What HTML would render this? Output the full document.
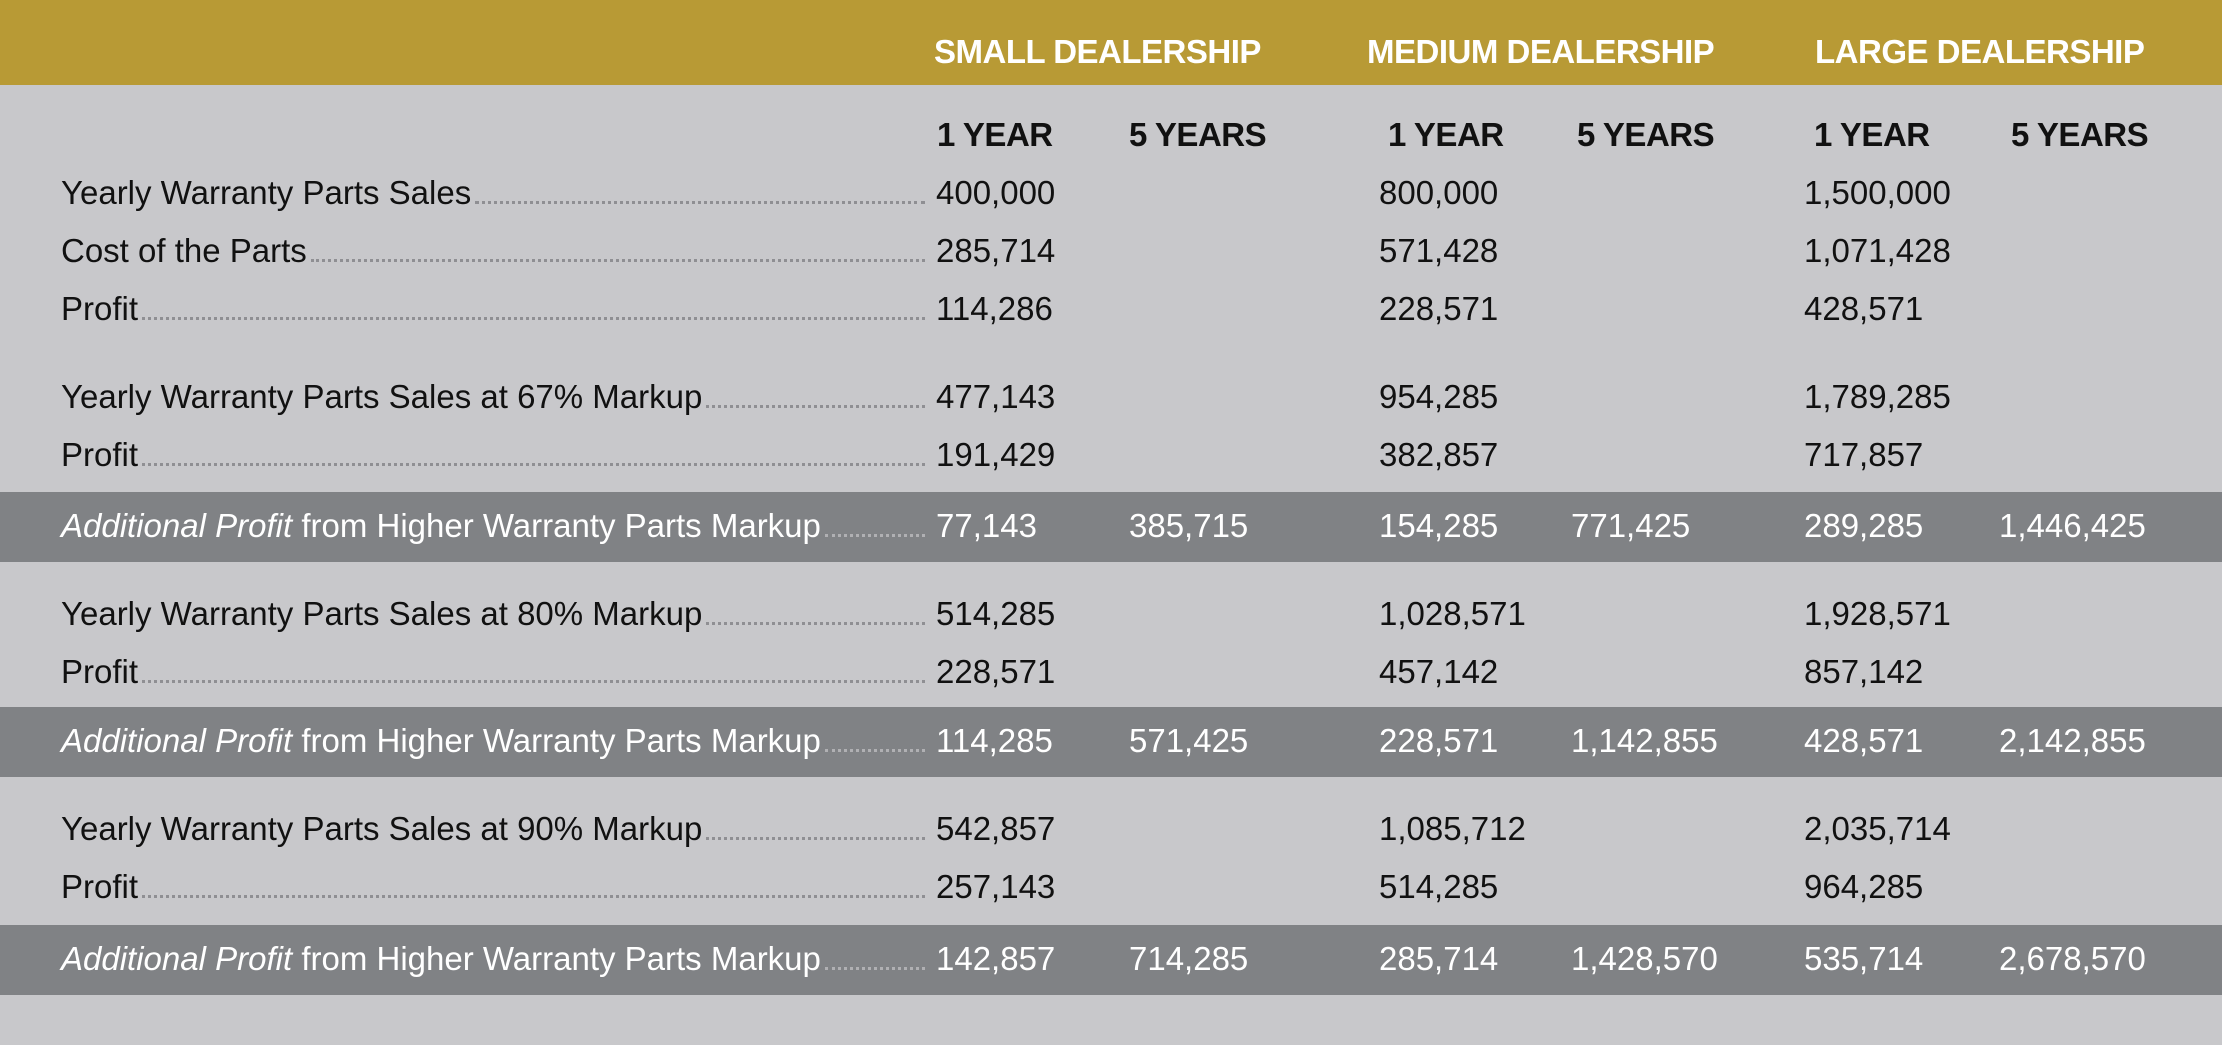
<!DOCTYPE html>
<html><head><meta charset="utf-8"><style>
html,body{margin:0;padding:0}
body{width:2222px;height:1045px;position:relative;background:#c8c8cb;overflow:hidden;font-family:"Liberation Sans",sans-serif}
.band{position:absolute;left:0;width:2222px}
.t{position:absolute;font-size:33px;line-height:40px;height:40px;white-space:nowrap;color:#111}
.h{font-weight:bold;color:#fff;font-size:33px;letter-spacing:-0.5px}
.y{font-weight:bold;color:#111;letter-spacing:-0.5px}
.lab{display:flex;align-items:flex-end;left:61px;width:866px}
.lab .d{flex:1;border-bottom:3px dotted #8f8f93;margin:0 2px 9px 4px}
.dark .t{color:#fff}
.dark .lab .d{border-bottom-color:#b0b0b3}
</style></head><body>
<div class="band" style="top:0;height:85px;background:#b89a35"></div>
<div class="t h" style="left:934px;top:32px">SMALL DEALERSHIP</div>
<div class="t h" style="left:1367px;top:32px">MEDIUM DEALERSHIP</div>
<div class="t h" style="left:1815px;top:32px">LARGE DEALERSHIP</div>
<div class="t y" style="left:937px;top:115px">1 YEAR</div>
<div class="t y" style="left:1129px;top:115px">5 YEARS</div>
<div class="t y" style="left:1388px;top:115px">1 YEAR</div>
<div class="t y" style="left:1577px;top:115px">5 YEARS</div>
<div class="t y" style="left:1814px;top:115px">1 YEAR</div>
<div class="t y" style="left:2011px;top:115px">5 YEARS</div>
<div id="rows"></div>
<script>
const labels=["Yearly Warranty Parts Sales","Cost of the Parts","Profit","Yearly Warranty Parts Sales at 67% Markup","Profit","from Higher Warranty Parts Markup","Yearly Warranty Parts Sales at 80% Markup","Profit","from Higher Warranty Parts Markup","Yearly Warranty Parts Sales at 90% Markup","Profit","from Higher Warranty Parts Markup"];
const rowY=[193,251,309,397,455,526,614,672,741,829,887,959];
const darkRows=[5,8,11];
const values=[
["400,000","","800,000","","1,500,000",""],
["285,714","","571,428","","1,071,428",""],
["114,286","","228,571","","428,571",""],
["477,143","","954,285","","1,789,285",""],
["191,429","","382,857","","717,857",""],
["77,143","385,715","154,285","771,425","289,285","1,446,425"],
["514,285","","1,028,571","","1,928,571",""],
["228,571","","457,142","","857,142",""],
["114,285","571,425","228,571","1,142,855","428,571","2,142,855"],
["542,857","","1,085,712","","2,035,714",""],
["257,143","","514,285","","964,285",""],
["142,857","714,285","285,714","1,428,570","535,714","2,678,570"]];
const colX=[936,1129,1379,1571,1804,1999];
const root=document.getElementById('rows');
labels.forEach((lab,i)=>{
  const y=rowY[i];
  const g=document.createElement('div');
  
  
  if(darkRows.includes(i)){
    g.className='dark';
    const b=document.createElement('div');
    b.className='band';
    
    
    b.style.cssText='top:'+(y-34)+'px;height:70px;background:#808285';
    g.appendChild(b);
  }
  const l=document.createElement('div');
  l.className='t lab';
  
  
  l.style.top=(y-20)+'px';
  l.innerHTML=(darkRows.includes(i)?'<i>Additional Profit</i>&nbsp;':'')+'<span>'+lab+'</span><span class="d"></span>';
  g.appendChild(l);
  values[i].forEach((v,j)=>{
    if(!v)return;
    const c=document.createElement('div');
    c.className='t';
    
    
    c.style.left=colX[j]+'px';
    c.style.top=(y-20)+'px';
    c.textContent=v;
    g.appendChild(c);
  });
  root.appendChild(g);
});
</script>
</body></html>
